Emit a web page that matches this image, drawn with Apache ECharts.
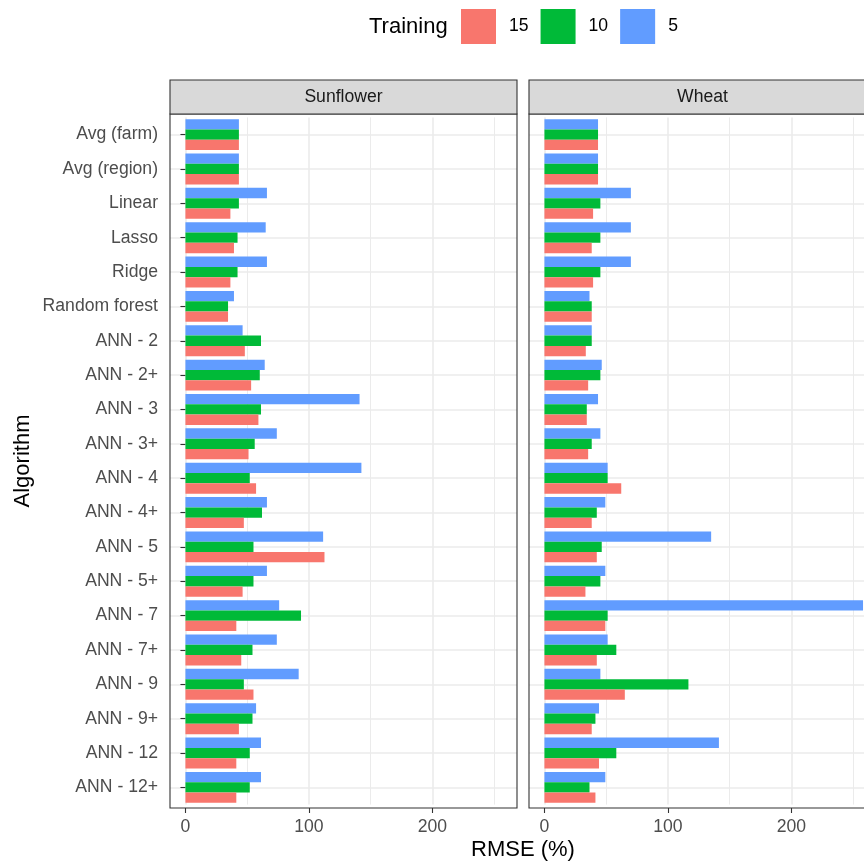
<!DOCTYPE html>
<html>
<head>
<meta charset="utf-8">
<script src="https://cdn.jsdelivr.net/npm/echarts@6/dist/echarts.min.js"></script>
<style>
  html, body { margin: 0; padding: 0; background: #fff; }
  #chart { width: 864px; height: 861px; }
</style>
</head>
<body>
<div id="chart"></div>
<script>
// algorithms, top to bottom
const algorithms = ['Avg (farm)', 'Avg (region)', 'Linear', 'Lasso', 'Ridge', 'Random forest',
  'ANN - 2', 'ANN - 2+', 'ANN - 3', 'ANN - 3+', 'ANN - 4', 'ANN - 4+', 'ANN - 5', 'ANN - 5+',
  'ANN - 7', 'ANN - 7+', 'ANN - 9', 'ANN - 9+', 'ANN - 12', 'ANN - 12+'];

const trainingLevels = ['15', '10', '5'];
const levelColors = { '15': '#F8766D', '10': '#00BA38', '5': '#619CFF' };

// Sunflower RMSE (%)
const sunflower5 = [43.3, 43.3, 66, 65, 66, 39.3, 46.3, 64.2, 141, 74, 142.5, 66, 111.5, 66, 75.9, 74, 91.7, 57.2, 61.2, 61.2];
const sunflower10 = [43.3, 43.3, 43.3, 42.2, 42.2, 34.5, 61.2, 60.2, 61.2, 56.1, 52.1, 62, 55.1, 55.1, 93.6, 54.3, 47.3, 54.3, 52.1, 52.1];
const sunflower15 = [43.3, 43.3, 36.4, 39.3, 36.4, 34.5, 48.1, 53.2, 59.1, 51.1, 57.2, 47.3, 112.6, 46.3, 41.2, 45.2, 55.1, 43.3, 41.2, 41.2];

// Wheat RMSE (%)
const wheat5 = [43.4, 43.4, 70, 70, 70, 36.5, 38.3, 46.4, 43.4, 45.3, 51.2, 49.3, 135, 49.3, 258, 51.2, 45.3, 44.2, 141.3, 49.3];
const wheat10 = [43.4, 43.4, 45.3, 45.3, 45.3, 38.3, 38.3, 45.3, 34.3, 38.3, 51.2, 42.4, 46.4, 45.3, 51.2, 58.2, 116.6, 41.3, 58.2, 36.5];
const wheat15 = [43.4, 43.4, 39.4, 38.3, 39.4, 38.3, 33.5, 35.4, 34.3, 35.4, 62.2, 38.3, 42.4, 33.2, 49.3, 42.4, 65.1, 38.3, 44.2, 41.3];

const majorTicks = [0, 100, 200];
const minorTicks = [50, 150, 250];
const panelNames = ['Sunflower', 'Wheat'];

const FONT = 'Liberation Sans, Arial, sans-serif';
const xMin = -12.5, xMax = 268.5;

// panel boxes (pixels); ggplot pads a discrete axis by 0.6 of a band each side
// the Wheat panel runs past the right edge of the picture, as in the original
const panels = [
  { left: 170, top: 114, width: 347, height: 694 },
  { left: 529, top: 114, width: 347, height: 694 }
];
const stripH = 34;
const bandPad = 694 * 0.1 / 20.2; // difference between 0.6-band and 0.5-band padding

function xMajor(i) {
  return {
    type: 'value', gridIndex: i, min: xMin, max: xMax, offset: bandPad,
    axisLine: { show: false },
    axisTick: { show: true, customValues: majorTicks, length: 5, lineStyle: { color: '#333', width: 1.1 } },
    axisLabel: { customValues: majorTicks, color: '#4D4D4D', fontSize: 17.6, fontFamily: FONT, margin: 10 },
    splitLine: { show: true, lineStyle: { color: '#EBEBEB', width: 1.6 } }
  };
}
function xMinor(i) {
  return {
    type: 'value', gridIndex: i, min: xMin, max: xMax, position: 'bottom',
    axisLine: { show: false },
    axisTick: { show: false, customValues: minorTicks },
    axisLabel: { show: false, customValues: minorTicks },
    splitLine: { show: true, lineStyle: { color: '#EBEBEB', width: 1 } }
  };
}
function yCat(i) {
  return {
    type: 'category', gridIndex: i, data: algorithms, inverse: true,
    axisLine: { show: false },
    axisTick: { show: i === 0, alignWithLabel: true, length: 5, lineStyle: { color: '#333', width: 1.1 } },
    axisLabel: { show: i === 0, color: '#4D4D4D', fontSize: 17.6, fontFamily: FONT, margin: 12 },
    splitLine: { show: true, alignWithLabel: true, lineStyle: { color: '#EBEBEB', width: 1.6 } },
    name: i === 0 ? 'Algorithm' : '',
    nameLocation: 'middle', nameGap: 136,
    nameTextStyle: { fontSize: 22, color: '#000', fontFamily: FONT }
  };
}

function bars(name, data, i) {
  return {
    name: name, type: 'bar', data: data,
    xAxisIndex: i * 2, yAxisIndex: i,
    barGap: '0%', barCategoryGap: '10%',
    itemStyle: { color: levelColors[name] },
    emphasis: { disabled: true }
  };
}

const graphics = [];
panels.forEach((p, i) => {
  // panel border
  graphics.push({
    type: 'rect', silent: true, z: 50,
    shape: { x: p.left, y: p.top, width: p.width, height: p.height },
    style: { fill: null, stroke: '#333', lineWidth: 1.1 }
  });
  // strip
  graphics.push({
    type: 'rect', silent: true, z: 50,
    shape: { x: p.left, y: p.top - stripH, width: p.width, height: stripH },
    style: { fill: '#D9D9D9', stroke: '#333', lineWidth: 1.1 }
  });
  graphics.push({
    type: 'text', silent: true, z: 51, x: p.left + p.width / 2, y: p.top - stripH / 2,
    style: { text: panelNames[i], fontSize: 17.6, fontFamily: FONT, fill: '#1A1A1A', align: 'center', verticalAlign: 'middle' }
  });
});
graphics.push({
  type: 'text', silent: true, x: 369, y: 27,
  style: { text: 'Training', fontSize: 22, fontFamily: FONT, fill: '#000', align: 'left', verticalAlign: 'middle' }
});
graphics.push({
  type: 'text', silent: true, x: (panels[0].left + panels[1].left + panels[1].width) / 2, y: 850,
  style: { text: 'RMSE (%)', fontSize: 22, fontFamily: FONT, fill: '#000', align: 'center', verticalAlign: 'middle' }
});

const chart = echarts.init(document.getElementById('chart'));
chart.setOption({
  animation: false,
  backgroundColor: '#fff',
  textStyle: { fontFamily: FONT },
  legend: {
    data: trainingLevels,
    left: 461, top: 9, padding: 0,
    icon: 'rect', itemWidth: 35, itemHeight: 35, itemGap: 12,
    textStyle: { fontSize: 17.6, color: '#000', fontFamily: FONT, padding: [0, 0, 0, 8] }
  },
  grid: panels.map(p => ({
    left: p.left, top: p.top + bandPad, width: p.width, height: p.height - 2 * bandPad,
    show: false, containLabel: false, outerBoundsMode: 'none'
  })),
  xAxis: [xMajor(0), xMinor(0), xMajor(1), xMinor(1)],
  yAxis: [yCat(0), yCat(1)],
  series: [
    bars('5', sunflower5, 0), bars('10', sunflower10, 0), bars('15', sunflower15, 0),
    bars('5', wheat5, 1), bars('10', wheat10, 1), bars('15', wheat15, 1)
  ],
  graphic: graphics
});
</script>
</body>
</html>
